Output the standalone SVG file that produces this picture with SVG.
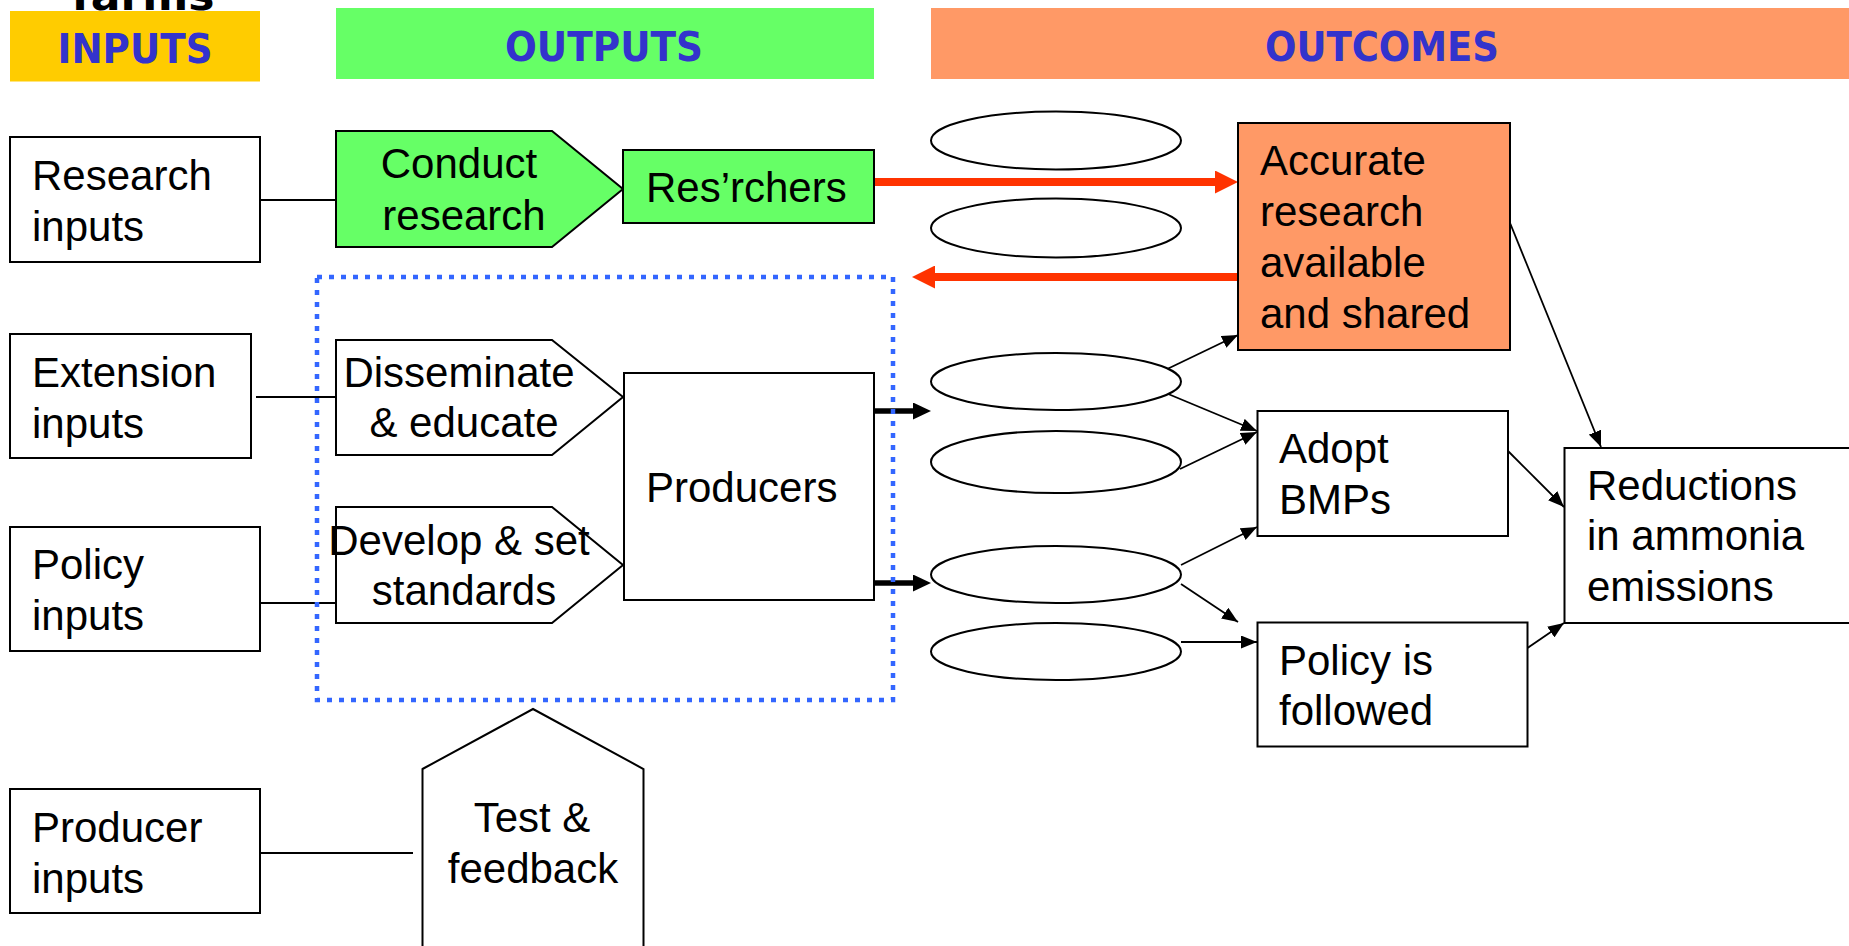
<svg xmlns="http://www.w3.org/2000/svg" width="1849" height="946" viewBox="0 0 1849 946">
<style>
.hdr{font-family:"DejaVu Sans",sans-serif;font-weight:bold;font-size:41px;fill:#3333CC;text-anchor:middle}
.t{font-family:"Liberation Sans",Arial,sans-serif;font-size:42px;fill:#000}
.m{text-anchor:middle}
.box{fill:#fff;stroke:#000;stroke-width:2}
.con{stroke:#000;stroke-width:2;fill:none}
.thin{stroke:#000;stroke-width:1.8;fill:none;marker-end:url(#ah)}
</style>
<defs>
<marker id="ah" markerUnits="userSpaceOnUse" markerWidth="16" markerHeight="13" refX="16" refY="6.5" orient="auto"><path d="M0,0 L16,6.5 L0,13 z" fill="#000"/></marker>
<marker id="red" markerUnits="userSpaceOnUse" markerWidth="23" markerHeight="23" refX="0" refY="11.5" orient="auto"><path d="M0,0 L23,11.5 L0,23 z" fill="#FF3300"/></marker>
<marker id="blk" markerUnits="userSpaceOnUse" markerWidth="18" markerHeight="17" refX="0" refY="8.5" orient="auto"><path d="M0,0 L18,8.5 L0,17 z" fill="#000"/></marker>
</defs>
<rect width="1849" height="946" fill="#fff"/>

<g id="headers">
<text x="143" y="9.5" style="font-family:'DejaVu Sans',sans-serif;font-weight:bold;font-size:41px;fill:#000;text-anchor:middle" textLength="143" lengthAdjust="spacingAndGlyphs">farms</text>
<rect x="10" y="11" width="250" height="70.5" fill="#FFCC00"/>
<text class="hdr" x="135" y="63" textLength="155" lengthAdjust="spacingAndGlyphs">INPUTS</text>
<rect x="336" y="8" width="538" height="71" fill="#66FF66"/>
<text class="hdr" x="604" y="61" textLength="198" lengthAdjust="spacingAndGlyphs">OUTPUTS</text>
<rect x="931" y="8" width="918" height="71" fill="#FF9966"/>
<text class="hdr" x="1382" y="61" textLength="234" lengthAdjust="spacingAndGlyphs">OUTCOMES</text>
</g>

<g id="connectors">
<line class="con" x1="260" y1="200" x2="336" y2="200"/>
<line class="con" x1="256" y1="397" x2="336" y2="397"/>
<line class="con" x1="260" y1="603" x2="336" y2="603"/>
<line class="con" x1="260" y1="853" x2="413" y2="853"/>
<line x1="874" y1="182" x2="1215" y2="182" stroke="#FF3300" stroke-width="8" marker-end="url(#red)"/>
<line x1="1238" y1="277" x2="935" y2="277" stroke="#FF3300" stroke-width="8" marker-end="url(#red)"/>
<line x1="874" y1="411" x2="913" y2="411" stroke="#000" stroke-width="5.5" marker-end="url(#blk)"/>
<line x1="874" y1="583" x2="913" y2="583" stroke="#000" stroke-width="5.5" marker-end="url(#blk)"/>
<line class="thin" x1="1161" y1="372" x2="1238" y2="335"/>
<line class="thin" x1="1161" y1="391" x2="1257" y2="431"/>
<line class="thin" x1="1180" y1="469" x2="1257" y2="432"/>
<line class="thin" x1="1181" y1="565" x2="1257" y2="527"/>
<line class="thin" x1="1181" y1="584" x2="1238" y2="622"/>
<line class="thin" x1="1181" y1="642" x2="1257" y2="642"/>
<line class="thin" x1="1508" y1="218" x2="1601" y2="447"/>
<line class="thin" x1="1508" y1="451" x2="1564" y2="507"/>
<line class="thin" x1="1507" y1="662" x2="1564" y2="623"/>
</g>

<g id="research-inputs"><rect class="box" x="10" y="137" width="250" height="125"/><text class="t" x="32" y="190">Research</text><text class="t" x="32" y="241">inputs</text></g>
<g id="extension-inputs"><rect class="box" x="10" y="334" width="241" height="124"/><text class="t" x="32" y="387">Extension</text><text class="t" x="32" y="438">inputs</text></g>
<g id="policy-inputs"><rect class="box" x="10" y="527" width="250" height="124"/><text class="t" x="32" y="579">Policy</text><text class="t" x="32" y="630">inputs</text></g>
<g id="producer-inputs"><rect class="box" x="10" y="789" width="250" height="124"/><text class="t" x="32" y="842">Producer</text><text class="t" x="32" y="893">inputs</text></g>

<g id="conduct-research"><polygon points="336,131 552,131 623,189 552,247 336,247" fill="#66FF66" stroke="#000" stroke-width="2"/><text class="t m" x="459" y="178">Conduct</text><text class="t m" x="464" y="230">research</text></g>
<g id="researchers"><rect x="623" y="150" width="251" height="73" fill="#66FF66" stroke="#000" stroke-width="2"/><text class="t" x="646" y="202">Res’rchers</text></g>
<g id="disseminate"><polygon class="box" points="336,340 552,340 623,397 552,455 336,455"/><text class="t m" x="459" y="387">Disseminate</text><text class="t m" x="464" y="437">&amp; educate</text></g>
<g id="develop"><polygon class="box" points="336,507 552,507 623,565 552,623 336,623"/><text class="t m" x="459" y="555">Develop &amp; set</text><text class="t m" x="464" y="605">standards</text></g>
<g id="producers"><rect class="box" x="624" y="373" width="250" height="227"/><text class="t" x="646" y="502">Producers</text></g>
<g id="test-feedback"><polygon class="box" points="422.5,769 533,709 643.5,769 643.5,960 422.5,960"/><text class="t m" x="532" y="832">Test &amp;</text><text class="t m" x="533" y="883">feedback</text></g>

<g id="producer-group"><rect x="317" y="277" width="576" height="423" fill="none" stroke="#3366FF" stroke-width="4.5" stroke-dasharray="5 7"/></g>

<g id="ellipses" fill="#fff" stroke="#000" stroke-width="2">
<ellipse cx="1056" cy="140.5" rx="125" ry="29"/>
<ellipse cx="1056" cy="228" rx="125" ry="29.5"/>
<ellipse cx="1056" cy="381.5" rx="125" ry="28.5"/>
<ellipse cx="1056" cy="462" rx="125" ry="31"/>
<ellipse cx="1056" cy="574.5" rx="125" ry="28.5"/>
<ellipse cx="1056" cy="651.5" rx="125" ry="28.5"/>
</g>

<g id="accurate-research"><rect x="1238" y="123" width="272" height="227" fill="#FF9966" stroke="#000" stroke-width="2"/><text class="t" x="1260" y="175">Accurate</text><text class="t" x="1260" y="226">research</text><text class="t" x="1260" y="277">available</text><text class="t" x="1260" y="328">and shared</text></g>
<g id="adopt-bmps"><rect class="box" x="1257.5" y="411" width="250.5" height="125"/><text class="t" x="1279" y="463">Adopt</text><text class="t" x="1279" y="514">BMPs</text></g>
<g id="policy-followed"><rect class="box" x="1257.5" y="622.5" width="270" height="124"/><text class="t" x="1279" y="675">Policy is</text><text class="t" x="1279" y="725">followed</text></g>
<g id="reductions"><rect class="box" x="1564.5" y="448" width="300" height="175"/><text class="t" x="1587" y="500">Reductions</text><text class="t" x="1587" y="549.5">in ammonia</text><text class="t" x="1587" y="601">emissions</text></g>
</svg>
